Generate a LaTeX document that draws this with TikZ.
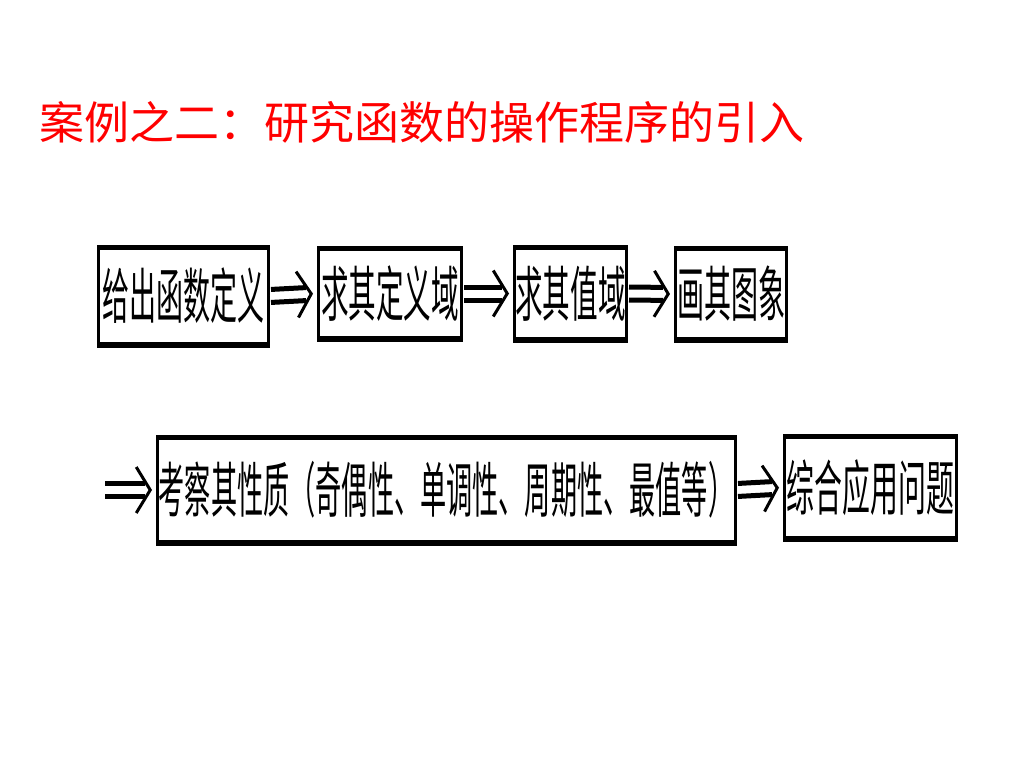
\documentclass[tikz,border=0pt]{standalone}
\usepackage{fontspec}
\usepackage{graphicx}
\usetikzlibrary{arrows.meta}
\newfontfamily\cjk{Noto Sans CJK SC}
\definecolor{titlered}{RGB}{255,0,0}
\newcommand{\boxtext}[2]{\scalebox{#1}[1]{\fontsize{60}{60}\selectfont\cjk #2}}
\begin{document}
\begin{tikzpicture}[x=1pt,y=-1pt,
  stepbox/.style={draw=black, line width=3pt, inner sep=0pt, fill=white, anchor=center},
  conn/.style={draw=none,
    postaction={draw=black, line width=5pt, shorten <=1pt, shorten >=11pt, transform canvas={yshift=6.5pt}},
    postaction={draw=black, line width=5pt, shorten <=1pt, shorten >=11pt, transform canvas={yshift=-6.5pt}},
    postaction={draw=white, line width=0.5pt, shorten >=4pt, -{Straight Barb[length=14pt, width=46pt, line width=3pt, color=black]}}},
  titletext/.style={anchor=west, inner sep=0pt, text=titlered, font=\cjk\fontsize{45}{50}\selectfont}]
\useasboundingbox (0,0) rectangle (1024,768);
\fill[white] (0,0) rectangle (1024,768);
\node[titletext] (title) at (39,122) {案例之二：研究函数的操作程序的引入};
% row 1
\node[stepbox, minimum width=170pt, minimum height=95pt] (b1) at (183.5,296) {\boxtext{0.45}{给出函数定义}};
\node[stepbox, minimum width=143pt, minimum height=88pt] (b2) at (390,293.5) {\boxtext{0.46}{求其定义域}};
\node[stepbox, minimum width=112pt, minimum height=90pt] (b3) at (570.5,293.5) {\boxtext{0.46}{求其值域}};
\node[stepbox, minimum width=111pt, minimum height=89pt] (b4) at (731,294) {\boxtext{0.45}{画其图象}};
% row 2
\node[stepbox, minimum width=578pt, minimum height=103pt] (b5) at (446.5,490) {\boxtext{0.436}{考察其性质（奇偶性、单调性、周期性、最值等）}};
\node[stepbox, minimum width=172pt, minimum height=100pt] (b6) at (870.5,487.5) {\boxtext{0.465}{综合应用问题}};
\coordinate (s) at (104,490);
% thicker top and bottom edges
\foreach \b in {b1,b2,b3,b4,b5,b6}{
  \draw[line width=5pt] (\b.north west) -- (\b.north east);
  \draw[line width=5pt] (\b.south west) -- (\b.south east);
}
% connectors
\draw[conn] (b1.east) -- (b2.west);
\draw[conn] (b2.east) -- (b3.west);
\draw[conn] (b3.east) -- (b4.west);
\draw[conn] (s) -- (b5.west);
\draw[conn] (b5.east) -- (b6.west);
\end{tikzpicture}
\end{document}
